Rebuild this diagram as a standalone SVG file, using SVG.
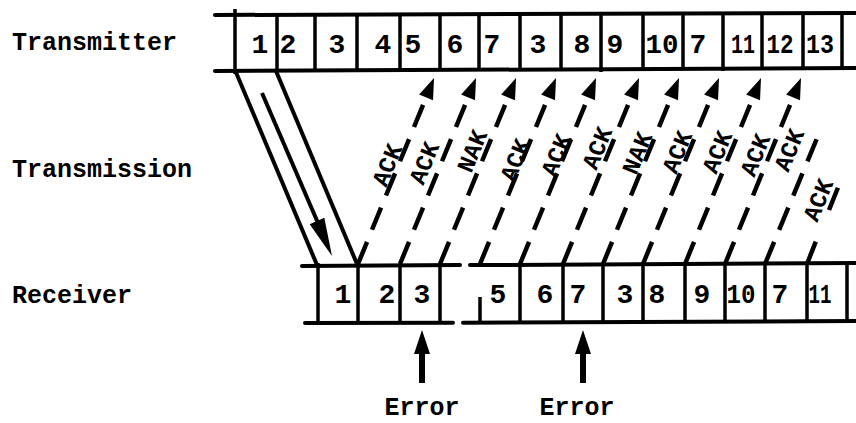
<svg xmlns="http://www.w3.org/2000/svg" width="856" height="423" viewBox="0 0 856 423">
<style>
.row{stroke:#000;stroke-width:4;fill:none;stroke-linecap:round}
.dv{stroke:#000;stroke-width:3.5;fill:none}
.dig{font-family:"Liberation Mono",monospace;font-size:28px;font-weight:bold;text-anchor:middle;fill:#000}
.lbl{font-family:"Liberation Mono",monospace;font-size:25px;font-weight:bold;fill:#000}
.ack{font-family:"Liberation Mono",monospace;font-size:24px;font-weight:bold;fill:#000;text-anchor:middle}
.dash{stroke:#000;stroke-width:4.5;fill:none;stroke-dasharray:24 13}
.solid{stroke:#000;stroke-width:4;fill:none}
</style>
<defs>
<marker id="ah" markerUnits="userSpaceOnUse" orient="auto" markerWidth="40" markerHeight="40" refX="0" refY="0" overflow="visible" viewBox="-20 -20 40 40">
<path d="M8,0 L-13,-7.5 L-13,7.5 Z" fill="#000"/>
</marker>
</defs>
<rect width="856" height="423" fill="#fff"/>

<g id="labels">
<text class="lbl" x="12" y="50">Transmitter</text>
<text class="lbl" x="12" y="177">Transmission</text>
<text class="lbl" x="12" y="303">Receiver</text>
</g>

<g id="transmitter">
<path class="row" d="M215,15 L856,13"/>
<path class="row" d="M215,71 L856,68"/>
<path class="dv" d="M235,9 V74"/>
<path class="dv" d="M277,15 V71 M315,15 V71 M357,15 V71 M400,15 V70 M440,14 V70 M479,14 V70 M520,14 V70 M561,14 V70 M601,14 V72 M643,14 V69 M683,14 V69 M723,14 V71 M762,13 V69 M803,13 V68 M842,13 V68"/>
<text class="dig" x="260" y="53">1</text>
<text class="dig" x="288" y="53">2</text>
<text class="dig" x="337" y="53">3</text>
<text class="dig" x="383" y="53">4</text>
<text class="dig" x="413" y="53">5</text>
<text class="dig" x="455" y="53">6</text>
<text class="dig" x="492" y="53">7</text>
<text class="dig" x="538" y="53">3</text>
<text class="dig" x="582" y="53">8</text>
<text class="dig" x="615" y="53">9</text>
<text class="dig" x="662" y="53" textLength="33" lengthAdjust="spacingAndGlyphs">10</text>
<text class="dig" x="698" y="53">7</text>
<text class="dig" x="743" y="53" textLength="24" lengthAdjust="spacingAndGlyphs">11</text>
<text class="dig" x="780" y="53" textLength="27" lengthAdjust="spacingAndGlyphs">12</text>
<text class="dig" x="820" y="53" textLength="28" lengthAdjust="spacingAndGlyphs">13</text>
</g>

<g id="receiver">
<path class="row" d="M302,266 L460,265.1 M470,265.1 L856,263"/>
<path class="row" d="M305,323 L453,322.7 M463,322.7 L856,321"/>
<path class="dv" d="M318,263 V325"/>
<path class="dv" d="M358,265 V323 M400,265 V323 M440,265 V323 M480,297 V322 M520,265 V322 M563,264 V322 M603,264 V322 M643,264 V322 M685,264 V322 M725,264 V322 M765,264 V322 M807,263 V321 M847,263 V321"/>
<text class="dig" x="343" y="303">1</text>
<text class="dig" x="387" y="303">2</text>
<text class="dig" x="422" y="303">3</text>
<text class="dig" x="498" y="303">5</text>
<text class="dig" x="545" y="303">6</text>
<text class="dig" x="578" y="303">7</text>
<text class="dig" x="625" y="303">3</text>
<text class="dig" x="657" y="303">8</text>
<text class="dig" x="702" y="303">9</text>
<text class="dig" x="741" y="303" textLength="29" lengthAdjust="spacingAndGlyphs">10</text>
<text class="dig" x="780" y="303">7</text>
<text class="dig" x="820" y="303" textLength="23" lengthAdjust="spacingAndGlyphs">11</text>
</g>

<g id="errors">
<path d="M422,330 L414,354 L430,354 Z" fill="#000"/>
<rect x="419" y="350" width="6" height="33" fill="#000"/>
<text class="lbl" x="422" y="415" text-anchor="middle">Error</text>
<path d="M583,330 L575,354 L591,354 Z" fill="#000"/>
<rect x="580" y="350" width="6" height="33" fill="#000"/>
<text class="lbl" x="577" y="415" text-anchor="middle">Error</text>
</g>

<g id="connectors">
<path class="solid" d="M235,70 L317,265"/>
<path class="solid" d="M276,71 L357,264"/>
<path class="solid" d="M262,93 L321,230"/>
<path d="M332,256 L309.7,224.2 L324.3,217.8 Z" fill="#000"/>
<path class="dash" marker-end="url(#ah)" d="M358,264 L431,85.4"/>
<path class="dash" marker-end="url(#ah)" d="M400,264 L473,85.4"/>
<path class="dash" marker-end="url(#ah)" d="M440,264 L513,85.4"/>
<path class="dash" marker-end="url(#ah)" d="M480,264 L553,85.4"/>
<path class="dash" marker-end="url(#ah)" d="M520,264 L593,85.4"/>
<path class="dash" marker-end="url(#ah)" d="M563,264 L636,85.4"/>
<path class="dash" marker-end="url(#ah)" d="M603,264 L676,85.4"/>
<path class="dash" marker-end="url(#ah)" d="M643,264 L716,85.4"/>
<path class="dash" marker-end="url(#ah)" d="M685,264 L758,85.4"/>
<path class="dash" marker-end="url(#ah)" d="M725,264 L798,85.4"/>
<path class="dash" d="M765,264 L820,131"/>
<path class="dash" d="M807,264 L818,236 M829,210 L839,185"/>
</g>

<g id="ack-labels">
<text class="ack" transform="translate(387,165) rotate(-67.8)" y="8">ACK</text>
<text class="ack" transform="translate(424,163) rotate(-67.8)" y="8">ACK</text>
<text class="ack" transform="translate(472,151) rotate(-67.8)" y="8">NAK</text>
<text class="ack" transform="translate(515,160) rotate(-67.8)" y="8">ACK</text>
<text class="ack" transform="translate(556,155) rotate(-67.8)" y="8">ACK</text>
<text class="ack" transform="translate(597,148) rotate(-67.8)" y="8">ACK</text>
<text class="ack" transform="translate(637,153) rotate(-67.8)" y="8">NAK</text>
<text class="ack" transform="translate(677,152) rotate(-67.8)" y="8">ACK</text>
<text class="ack" transform="translate(717,152) rotate(-67.8)" y="8">ACK</text>
<text class="ack" transform="translate(755,155) rotate(-67.8)" y="8">ACK</text>
<text class="ack" transform="translate(789,150) rotate(-67.8)" y="8">ACK</text>
<text class="ack" transform="translate(818,200) rotate(-67.8)" y="8">ACK</text>
</g>
</svg>
